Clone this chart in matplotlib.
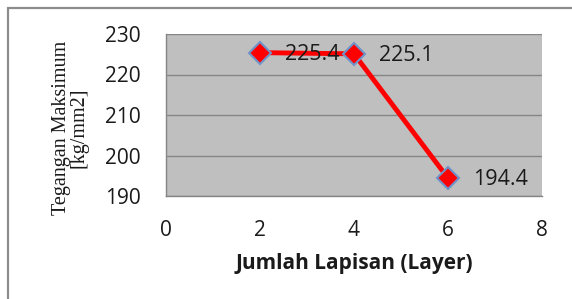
import matplotlib
matplotlib.use("Agg")
import matplotlib.pyplot as plt
from matplotlib.patches import Rectangle

layers = [2, 4, 6]
tegangan = [225.4, 225.1, 194.4]
labels = ["225.4", "225.1", "194.4"]
xticks = [0, 2, 4, 6, 8]
yticks = [190, 200, 210, 220, 230]

W, H = 572, 299
fig = plt.figure(figsize=(W / 100, H / 100), dpi=100)
fig.patch.set_facecolor("white")

# outer chart border (only top/left visible in reference)
fig.patches.append(Rectangle((8 / W, -0.1), 1.2, (H - 8) / H + 0.1,
                             transform=fig.transFigure, fill=False,
                             edgecolor="#8c8c8c", linewidth=1.6))

ax = fig.add_axes([166 / W, 1 - 196 / H, (542 - 166) / W, (196 - 34) / H])
ax.set_facecolor("#bfbfbf")
ax.set_xlim(0, 8)
ax.set_ylim(190, 230)
ax.set_xticks(xticks)
ax.set_yticks(yticks)
ax.grid(axis="y", color="#868686", linewidth=1.0)
ax.set_axisbelow(True)
for s in ["top", "right"]:
    ax.spines[s].set_visible(False)
for s in ["left", "bottom"]:
    ax.spines[s].set_color("#868686")
    ax.spines[s].set_linewidth(1.0)
ax.tick_params(length=0, labelsize=15, colors="#1a1a1a")
ax.tick_params(axis="y", pad=18)
ax.tick_params(axis="x", pad=17)
for t in ax.get_xticklabels() + ax.get_yticklabels():
    t.set_fontfamily("Open Sans")

ax.plot(layers, tegangan, color="#ff0000", linewidth=3.5, marker="D",
        markersize=11, markerfacecolor="#ff0000", markeredgecolor="#6f93c9",
        markeredgewidth=1.5, clip_on=False, zorder=3)

for x, y, lab in zip(layers, tegangan, labels):
    ax.annotate(lab, (x, y), xytext=(18, -1), textcoords="offset points",
                ha="left", va="center", fontsize=15.5, family="Open Sans",
                color="#1a1a1a", zorder=4)

ax.set_xlabel("Jumlah Lapisan (Layer)", fontsize=15, fontweight="bold",
              family="Open Sans", labelpad=9, color="#1a1a1a")
fig.text(70 / W, 1 - 128 / H, "Tegangan Maksimum\n[kg/mm2]", rotation=90,
         ha="center", va="center", fontsize=14.5, family="Liberation Serif",
         linespacing=0.9, color="#1a1a1a")

fig.savefig("out.png", dpi=100)
